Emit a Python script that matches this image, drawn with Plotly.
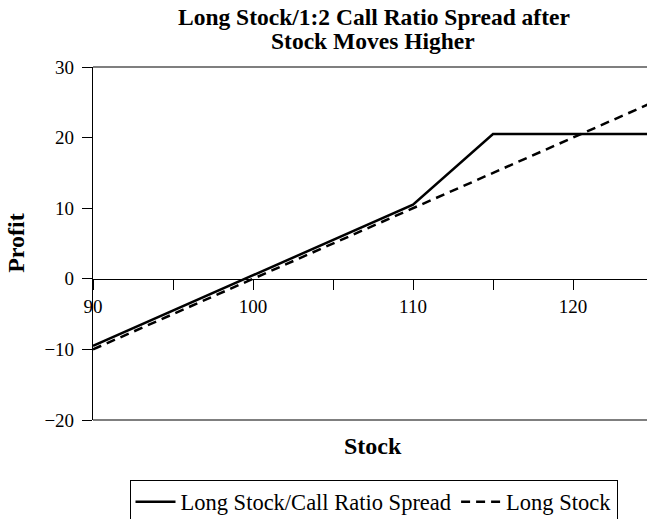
import plotly.graph_objects as go

# ---- data ----
stock = [90, 110, 115, 125]
spread_profit = [-9.5, 10.5, 20.5, 20.5]
long_stock_profit = [-10, 10, 15, 25]

x_tick_vals = [90, 100, 110, 120]
y_tick_vals = [-20, -10, 0, 10, 20, 30]

series_names = ["Long Stock/Call Ratio Spread", "Long Stock"]
title_lines = ["Long Stock/1:2 Call Ratio Spread after", "Stock Moves Higher"]
x_title = "Stock"
y_title = "Profit"

# ---- layout geometry ----
W, H = 647, 519
L, R, T, B = 93, 0, 67, 98.6
plot_w = W - L - R
plot_h = H - T - B
px_per_x = 16.0
x_range = [90, 90 + plot_w / px_per_x]
y_range = [-20, 30]

SERIF = "Liberation Serif"


def py(pixel_y):
    """figure pixel y (from top) -> paper y"""
    return (H - B - pixel_y) / plot_h


def px(pixel_x):
    return (pixel_x - L) / plot_w


fig = go.Figure()
fig.add_trace(go.Scatter(
    x=stock, y=spread_profit, mode="lines", name=series_names[0],
    line=dict(color="black", width=2.5)))
fig.add_trace(go.Scatter(
    x=stock, y=long_stock_profit, mode="lines", name=series_names[1],
    line=dict(color="black", width=2.5, dash="9px,6px")))

zero_pos = (0 - y_range[0]) / (y_range[1] - y_range[0])

fig.update_layout(
    width=W, height=H,
    margin=dict(l=L, r=R, t=T, b=B, autoexpand=False),
    paper_bgcolor="white", plot_bgcolor="white",
    showlegend=True,
    font=dict(family=SERIF, color="black", size=19),
    xaxis=dict(
        range=x_range, anchor="free", position=zero_pos,
        showline=True, linecolor="black", linewidth=1.2,
        showgrid=False, zeroline=False,
        tickmode="array", tickvals=x_tick_vals,
        ticks="outside", ticklen=10, tickcolor="black", tickwidth=1.2,
        minor=dict(tick0=90, dtick=5, ticks="outside", ticklen=10,
                   tickcolor="black", tickwidth=1.2, showgrid=False),
        tickfont=dict(family=SERIF, size=19, color="black"),
    ),
    yaxis=dict(
        range=y_range, showline=True, linecolor="black", linewidth=1.2,
        showgrid=False, zeroline=False,
        tickmode="array", tickvals=y_tick_vals,
        ticktext=[str(v).replace("-", "\u2212") for v in y_tick_vals],
        ticks="outside", ticklen=10, tickcolor="black", tickwidth=1.2,
        ticklabelstandoff=4,
        tickfont=dict(family=SERIF, size=19, color="black"),
    ),
    legend=dict(
        orientation="h", x=px(373.5), xanchor="center",
        y=py(480), yanchor="top",
        bordercolor="black", borderwidth=1, bgcolor="white",
        font=dict(family=SERIF, size=22.5, color="black"),
        itemwidth=40,
    ),
    shapes=[
        dict(type="line", xref="x domain", yref="y domain", x0=0, x1=1, y0=1, y1=1,
             line=dict(color="black", width=1.2)),
        dict(type="line", xref="x domain", yref="y domain", x0=0, x1=1, y0=0, y1=0,
             line=dict(color="black", width=1.2)),
    ],
    annotations=[
        dict(text="<b>%s</b>" % title_lines[0], xref="paper", yref="paper",
             x=px(374), y=py(16.5), xanchor="center", yanchor="middle", showarrow=False,
             font=dict(family=SERIF, size=23.5, color="black")),
        dict(text="<b>%s</b>" % title_lines[1], xref="paper", yref="paper",
             x=px(373), y=py(40.5), xanchor="center", yanchor="middle", showarrow=False,
             font=dict(family=SERIF, size=23.5, color="black")),
        dict(text="<b>%s</b>" % x_title, xref="paper", yref="paper",
             x=px(373), y=py(446), xanchor="center", yanchor="middle", showarrow=False,
             font=dict(family=SERIF, size=24, color="black")),
        dict(text="<b>%s</b>" % y_title, xref="paper", yref="paper",
             x=px(16), y=py(243), xanchor="center", yanchor="middle", showarrow=False,
             textangle=-90, font=dict(family=SERIF, size=24, color="black")),
    ],
)

fig.write_html(
    "out.html",
    config={"displayModeBar": False},
    post_script="document.body.style.margin='0';document.body.style.overflow='hidden';",
)
